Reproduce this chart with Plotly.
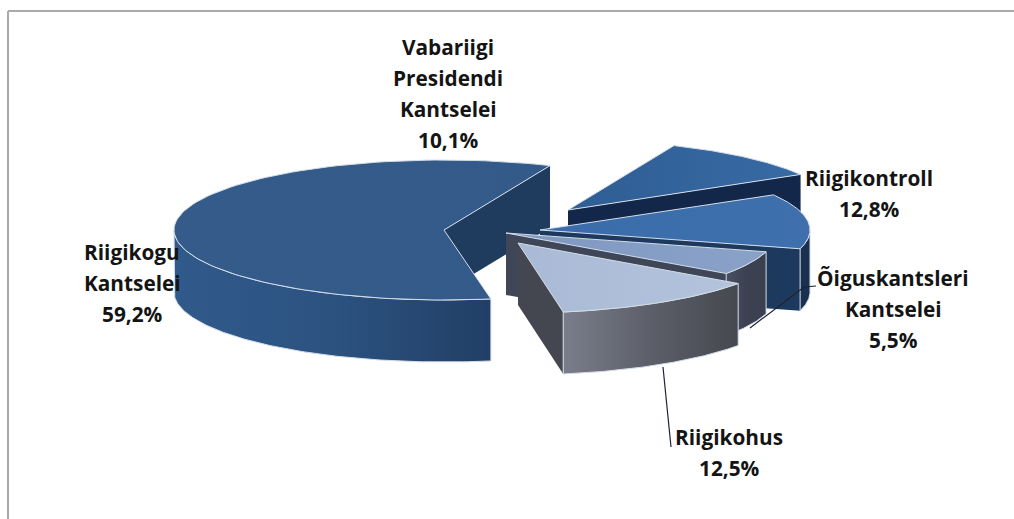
import numpy as np
import plotly.graph_objects as go

# ---- data ----
names = [["Riigikogu", "Kantselei"],
         ["Vabariigi", "Presidendi", "Kantselei"],
         ["Riigikontroll"],
         ["Õiguskantsleri", "Kantselei"],
         ["Riigikohus"]]
shares = [59.2, 10.1, 12.8, 5.5, 12.5]

# ---- projection and style ----
W, H = 1014, 519
START_DEG = 170.0
RX, RY, DEPTH = 270.0, 70.0, 62.0
APEX_X = [444, 568, 540, 506, 518]
APEX_Y = [230, 210, 230, 233, 243]
TOP_COLOR = [["#355b8b", "#345a8a"], ["#2f5d94", "#386aa3"], ["#3a6cab", "#3f70ad"],
             ["#7f98c0", "#8aa2c8"], ["#a9bad6", "#b4c3dc"]]
OUTER_COLOR = [["#305a8b", "#2c5280", "#213f66"], ["#1a3050", "#1a3050", "#1a3050"],
               ["#1b2f4e", "#1b2f4e", "#1b2f4e"], ["#4a5062", "#3c4252", "#3a4050"],
               ["#7a7e8a", "#5c5f69", "#46484f"]]
EDGE_COLOR = ["#1f3b5e", "#12274a", "#1d395d", "#3e4658", "#44474f"]
LIGHT = "#d4dde9"
LABEL_X = [132, 448, 869, 893, 729]
LABEL_Y = [252, 47, 178, 278, 437]
LINE_GAP = 31
FONT = dict(family="Open Sans", size=20.8, color="#141414")
LEADERS = [([663, 671], [367, 447]),
           ([816, 804, 750], [286, 287, 328])]


def arc(cx, cy, a0, a1, drop=0.0, n=120):
    t = np.radians(np.linspace(a0, a1, n))
    return cx + RX * np.sin(t), cy - RY * np.cos(t) + drop


fig = go.Figure()


def poly(x, y, colors=None, solid=None, line=None, width=1):
    kw = dict(x=list(x), y=list(y), mode="lines", fill="toself", hoverinfo="skip",
              showlegend=False, line=dict(color=line or "rgba(0,0,0,0)", width=width))
    if colors:
        stops = np.linspace(0, 1, len(colors))
        kw["fillgradient"] = dict(type="horizontal",
                                  colorscale=[[float(s), c] for s, c in zip(stops, colors)])
    else:
        kw["fillcolor"] = solid
    fig.add_trace(go.Scatter(**kw))


angle = START_DEG
for i, share in enumerate(shares):
    a0, a1 = angle, angle + share * 3.6
    angle = a1
    if a0 >= 360:
        a0, a1 = a0 - 360, a1 - 360
    cx, cy = APEX_X[i], APEX_Y[i]

    # side wall along the clockwise cut
    ex, ey = arc(cx, cy, a1, a1, n=1)
    poly([cx, ex[0], ex[0], cx, cx], [cy, ey[0], ey[0] + DEPTH, cy + DEPTH, cy],
         solid=EDGE_COLOR[i])

    # outer wall (only the part facing the viewer: 90..270 degrees)
    w0, w1 = max(a0, 90.0), min(a1, 270.0)
    if w1 > w0:
        tx, ty = arc(cx, cy, w0, w1)
        bx, by = arc(cx, cy, w1, w0, drop=DEPTH)
        poly(np.r_[tx, bx, tx[0]], np.r_[ty, by, ty[0]], colors=OUTER_COLOR[i], line=LIGHT)

    # top face
    ax, ay = arc(cx, cy, a0, a1)
    poly(np.r_[cx, ax, cx], np.r_[cy, ay, cy], colors=TOP_COLOR[i], line=LIGHT)

    # labels
    lines = names[i] + [f"{share:.1f}%".replace(".", ",")]
    for k, txt in enumerate(lines):
        fig.add_annotation(x=LABEL_X[i], y=LABEL_Y[i] + k * LINE_GAP, text=f"<b>{txt}</b>",
                           showarrow=False, font=FONT, xanchor="center", yanchor="middle")

for lx, ly in LEADERS:
    fig.add_trace(go.Scatter(x=lx, y=ly, mode="lines", hoverinfo="skip", showlegend=False,
                             line=dict(color="#1c2433", width=1.2)))

fig.add_shape(type="line", x0=8, x1=W, y0=11, y1=11, line=dict(color="#aaaaaa", width=2))
fig.add_shape(type="line", x0=8, x1=8, y0=11, y1=H, line=dict(color="#aaaaaa", width=2))

fig.update_layout(width=W, height=H, margin=dict(l=0, r=0, t=0, b=0),
                  paper_bgcolor="white", plot_bgcolor="white", showlegend=False,
                  xaxis=dict(range=[0, W], visible=False, fixedrange=True),
                  yaxis=dict(range=[H, 0], visible=False, fixedrange=True))
fig.write_html("out.html", config=dict(displayModeBar=False),
               post_script="document.body.style.margin='0';document.body.style.overflow='hidden';")
